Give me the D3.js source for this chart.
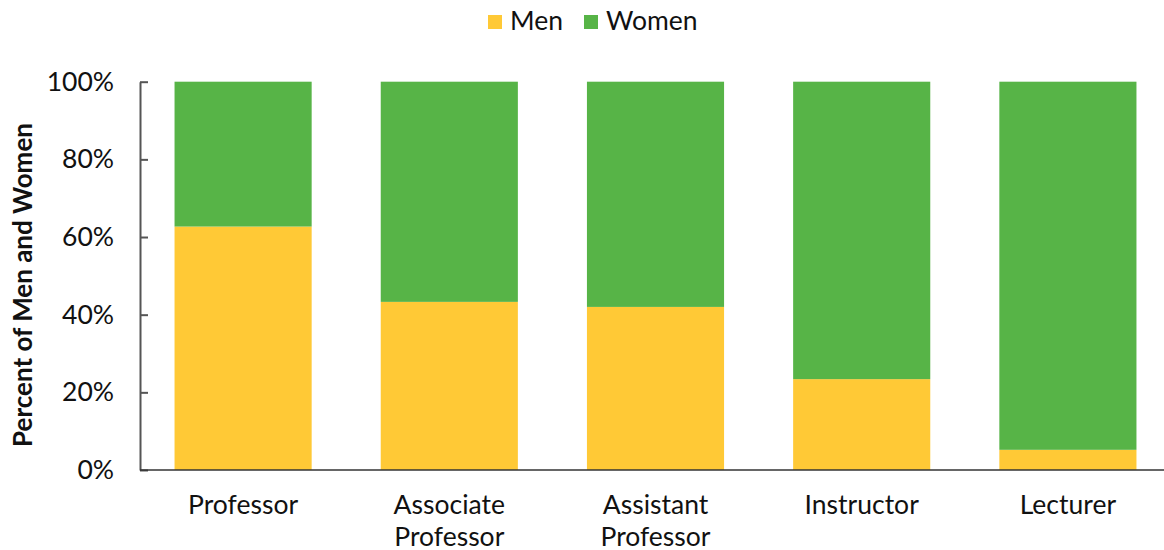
<!DOCTYPE html>
<html><head><meta charset="utf-8">
<script src="https://cdn.jsdelivr.net/npm/d3@7"></script>
<style>body{margin:0;background:#fff}svg{display:block;font-family:Lato,"Open Sans",sans-serif}</style>
</head><body>
<svg id="c" width="1164" height="550"></svg>
<script>
const categories = [["Professor"],["Associate","Professor"],["Assistant","Professor"],["Instructor"],["Lecturer"]];
const men   = [62.7, 43.3, 42.0, 23.4, 5.2];
const women = [37.3, 56.7, 58.0, 76.6, 94.8];
const seriesNames = ["Men","Women"];
const colors = ["#FFC936","#57B447"];
const yTicks = [0,20,40,60,80,100];

const svg = d3.select("#c");
const keys = categories.map(c=>c.join(" "));
const x = d3.scaleBand().domain(keys).range([140,1171]).paddingInner(0.335).paddingOuter(0.1675);
const y = d3.scaleLinear().domain([0,100]).range([470,81.7]);

const rows = keys.map((k,i)=>({cat:k, Men:men[i], Women:women[i]}));
const stack = d3.stack().keys(seriesNames)(rows);

svg.append("g").selectAll("g").data(stack).join("g")
  .attr("fill",(d,i)=>colors[i])
  .selectAll("rect").data(d=>d).join("rect")
  .attr("x",d=>x(d.data.cat)).attr("width",x.bandwidth())
  .attr("y",d=>y(d[1])).attr("height",d=>y(d[0])-y(d[1]));

// y axis
const ya = svg.append("g").attr("transform","translate(140,0)")
  .call(d3.axisLeft(y).tickValues(yTicks).tickFormat(d=>d+"%").tickSizeInner(-8).tickSizeOuter(0).tickPadding(26));
ya.select(".domain").attr("stroke","#555").attr("stroke-width",2);
ya.selectAll(".tick line").attr("stroke","#555").attr("stroke-width",2);
ya.selectAll("text").attr("font-size",26.5).attr("fill","#111").attr("font-family","Lato");

// x axis line
svg.append("line").attr("x1",140).attr("x2",1164).attr("y1",y(0)).attr("y2",y(0)).attr("stroke","#333").attr("stroke-width",1.5);

// x labels
categories.forEach((c,i)=>{
  const t = svg.append("text").attr("text-anchor","middle").attr("font-size",26.5).attr("fill","#111")
    .attr("x",x(keys[i])+x.bandwidth()/2).attr("y",513.5);
  c.forEach((line,j)=>t.append("tspan").attr("x",x(keys[i])+x.bandwidth()/2).attr("dy",j===0?0:32.3).text(line));
});

// y title
svg.append("text").attr("transform","translate(32,285) rotate(-90)").attr("text-anchor","middle")
  .attr("font-size",26).attr("font-weight","bold").attr("fill","#111").text("Percent of Men and Women");

// legend
const legX = [488,584];
seriesNames.forEach((s,i)=>{
  svg.append("rect").attr("x",legX[i]).attr("y",15).attr("width",14).attr("height",14).attr("fill",colors[i]);
  svg.append("text").attr("x",legX[i]+22).attr("y",30).attr("font-size",26.5).attr("fill","#111").text(s);
});
</script>
</body></html>
